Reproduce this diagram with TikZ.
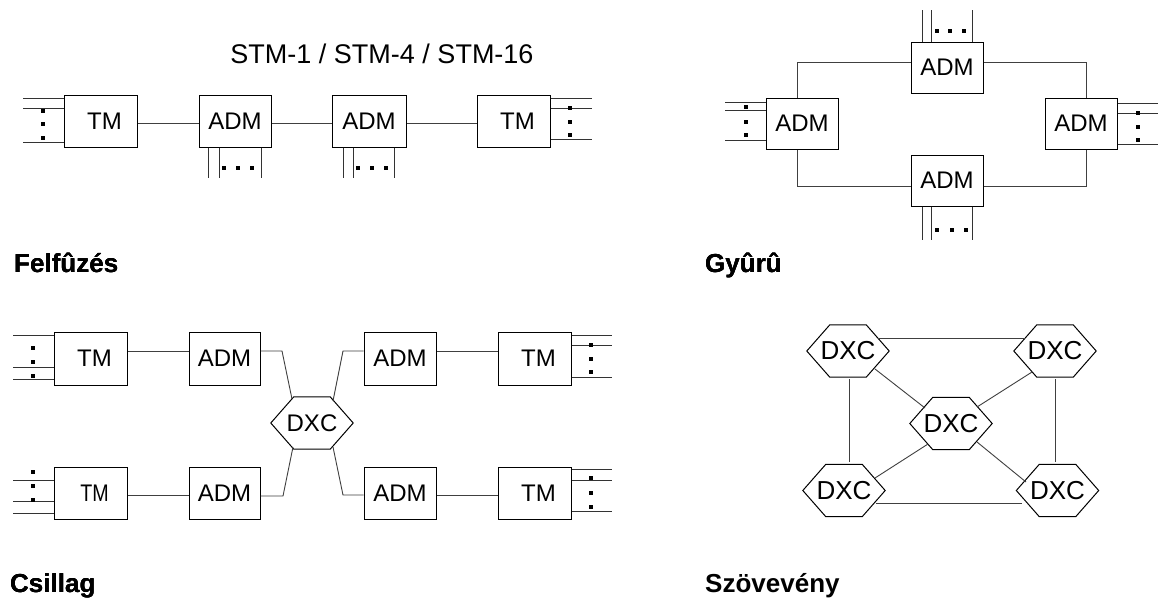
\documentclass[tikz,border=0pt]{standalone}
\usepackage{fontspec}
\setmainfont{Liberation Sans}
\usepackage{graphicx}
\tikzset{
  box/.style={draw=black, line width=1pt, minimum width=73pt, minimum height=52pt, inner sep=0pt, font=\fontsize{24}{28}\selectfont},
  hexbase/.style={minimum width=82pt, minimum height=52pt, inner sep=0pt, font=\fontsize{24}{28}\selectfont},
  hexline/.style={draw=black, line width=1pt, line join=miter},
  wire/.style={draw=black!75, line width=0.9pt},
  trib/.style={draw=black!80, line width=0.9pt},
  section/.style={anchor=base west, inner sep=0pt, font=\fontsize{26}{30}\selectfont\bfseries},
}
\newcommand\sqdot[1]{\fill (#1) +(-1.8,-1.8) rectangle +(1.8,1.8);}
\newcommand\hexnode[4][]{%
  \node[hexbase,#1] (#2) at (#3) {#4};
  \draw[hexline] (#2.west) -- ([shift={(23,0)}]#2.north west) -- ([shift={(-23,0)}]#2.north east)
    -- (#2.east) -- ([shift={(-23,0)}]#2.south east) -- ([shift={(23,0)}]#2.south west) -- cycle;}
\begin{document}
\begin{tikzpicture}[x=1pt,y=-1pt]
\useasboundingbox[fill=white] (0,0) rectangle (1159,603);

% ---------------- Felfuzes (chain) ----------------
\node[font=\fontsize{27}{30}\selectfont] (title) at (382,54) {STM-1 / STM-4 / STM-16};
\node[box] (tm1) at (100.5,121) {\hspace*{8pt}TM};
\node[box,minimum width=72pt] (adm1) at (235,121) {ADM};
\node[box,minimum width=74pt] (adm2) at (369,121) {ADM};
\node[box] (tm2) at (513.5,121) {\hspace*{8pt}TM};
\draw[wire] (tm1.east |- 0,123) -- (adm1.west |- 0,123);
\draw[wire] (adm1.east |- 0,123) -- (adm2.west |- 0,123);
\draw[wire] (adm2.east |- 0,123) -- (tm2.west |- 0,123);
\foreach \y in {98,108,142} \draw[trib] (tm1.west |- 0,\y) -- (23,\y);
\foreach \y in {111,124,138} \sqdot{43,\y}
\foreach \y in {98,108,139} \draw[trib] (tm2.east |- 0,\y) -- (592,\y);
\foreach \y in {108,122,135} \sqdot{570,\y}
\foreach \x in {208,219,261} \draw[trib] (adm1.south -| \x,0) -- (\x,178);
\foreach \x in {224,238,252} \sqdot{\x,168}
\foreach \x in {343,353,394} \draw[trib] (adm2.south -| \x,0) -- (\x,178);
\foreach \x in {358,372,386} \sqdot{\x,168}
\node[section] (lab1) at (14,272) {Felfûzés};

% ---------------- Gyuru (ring) ----------------
\node[box,minimum width=72pt,minimum height=51pt] (gl) at (802,123.5) {ADM};
\node[box,minimum width=72pt,minimum height=51pt] (gt) at (947,67.5) {ADM};
\node[box,minimum width=72pt,minimum height=51pt] (gr) at (1081,123.5) {ADM};
\node[box,minimum width=72pt,minimum height=51pt] (gb) at (947,180.5) {ADM};
\draw[wire] (gl.north -| 797,0) |- (gt.west |- 0,62);
\draw[wire] (gt.east |- 0,62) -| (gr.north -| 1086,0);
\draw[wire] (gl.south -| 797,0) |- (gb.west |- 0,186);
\draw[wire] (gb.east |- 0,186) -| (gr.south -| 1086,0);
\foreach \y in {102,110,140} \draw[trib] (gl.west |- 0,\y) -- (725,\y);
\foreach \y in {107,122,135} \sqdot{746,\y}
\foreach \y in {103,113,144} \draw[trib] (gr.east |- 0,\y) -- (1158,\y);
\foreach \y in {113,127,140} \sqdot{1138,\y}
\foreach \x in {922,931,972} \draw[trib] (gt.north -| \x,0) -- (\x,10);
\foreach \x in {937,950,964} \sqdot{\x,31}
\foreach \x in {922,931,972} \draw[trib] (gb.south -| \x,0) -- (\x,240);
\foreach \x in {937,952,966} \sqdot{\x,230}
\node[section] (lab2) at (705,272) {Gyûrû};

% ---------------- Csillag (star) ----------------
\node[box,minimum height=53pt] (sta) at (90.5,358.5) {\hspace*{8pt}TM};
\node[box,minimum width=71pt,minimum height=53pt] (ama) at (224.5,358.5) {ADM};
\node[box,minimum width=72pt,minimum height=53pt] (amc) at (400,358.5) {ADM};
\node[box,minimum height=53pt] (stc) at (534.5,358.5) {\hspace*{8pt}TM};
\node[box,minimum height=52pt] (stb) at (90.5,493) {\hspace*{8pt}\scalebox{0.82}[1]{TM}};
\node[box,minimum width=71pt,minimum height=52pt] (amb) at (224.5,493) {ADM};
\node[box,minimum width=72pt,minimum height=52pt] (amd) at (400,493) {ADM};
\node[box,minimum height=52pt] (std) at (534.5,493) {\hspace*{8pt}TM};
\hexnode{sdxc}{312,423}{DXC}
\draw[wire] (sta.east |- 0,351) -- (ama.west |- 0,351);
\draw[wire] (amc.east |- 0,351) -- (stc.west |- 0,351);
\draw[wire] (stb.east |- 0,495) -- (amb.west |- 0,495);
\draw[wire] (amd.east |- 0,495) -- (std.west |- 0,495);
\draw[wire] (ama.east |- 0,351) -- (282,351) -- ([shift={(-20,-24)}]sdxc.center);
\draw[wire] ([shift={(21,-22)}]sdxc.center) -- (343,351) -- (amc.west |- 0,351);
\draw[wire] (amb.east |- 0,496) -- (283,496) -- ([shift={(-19,24)}]sdxc.center);
\draw[wire] ([shift={(21,24)}]sdxc.center) -- (343,495) -- (amd.west |- 0,495);
\foreach \y in {335,367,379} \draw[trib] (sta.west |- 0,\y) -- (13,\y);
\foreach \y in {348,362,376} \sqdot{33,\y}
\foreach \y in {335,345,377} \draw[trib] (stc.east |- 0,\y) -- (612,\y);
\foreach \y in {345,359,372} \sqdot{591,\y}
\foreach \y in {480,501,513} \draw[trib] (stb.west |- 0,\y) -- (13,\y);
\foreach \y in {472,486,500} \sqdot{33,\y}
\foreach \y in {469,480,511} \draw[trib] (std.east |- 0,\y) -- (612,\y);
\foreach \y in {478,493,507} \sqdot{591,\y}
\node[section] (lab3) at (10,592) {Csillag};

% ---------------- Szovevény (mesh) ----------------
\hexnode[font=\fontsize{26}{30}\selectfont]{mtl}{848,351}{DXC}
\hexnode[font=\fontsize{26}{30}\selectfont]{mtr}{1055,351}{DXC}
\hexnode[font=\fontsize{26}{30}\selectfont]{mc}{951,423.5}{DXC}
\hexnode[font=\fontsize{26}{30}\selectfont]{mbl}{844,490.5}{DXC}
\hexnode[font=\fontsize{26}{30}\selectfont]{mbr}{1057.5,490.5}{DXC}
\draw[wire] ([shift={(-11.5,-13)}]mtl.east) -- ([shift={(11.5,-13)}]mtr.west);
\draw[wire] ([shift={(-9,12.5)}]mbl.east) -- ([shift={(6,12.5)}]mbr.west);
\draw[wire] ([shift={(1,2)}]mtl.south) -- ([shift={(1,-2)}]mtl.south |- mbl.north);
\draw[wire] ([shift={(0,2)}]mtr.south) -- ([shift={(0,-2)}]mtr.south |- mbr.north);
\draw[wire] ([shift={(27,18)}]mtl.center) -- ([shift={(-26,-15.5)}]mc.center);
\draw[wire] ([shift={(-23,21)}]mtr.center) -- ([shift={(26,-16.5)}]mc.center);
\draw[wire] ([shift={(31,-12.5)}]mbl.center) -- ([shift={(-23,20.5)}]mc.center);
\draw[wire] ([shift={(-31.5,-8.5)}]mbr.center) -- ([shift={(26,18.5)}]mc.center);
\node[section] (lab4) at (705,592) {Szövevény};
\end{tikzpicture}
\end{document}
